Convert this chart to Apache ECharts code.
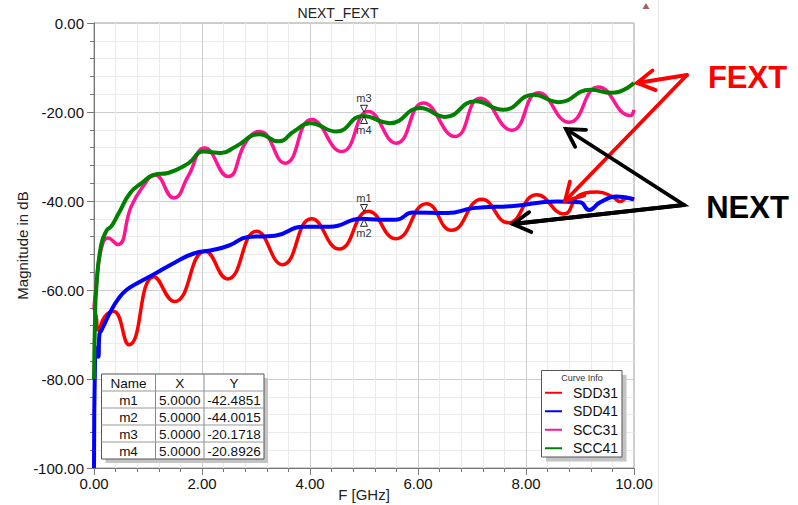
<!DOCTYPE html>
<html><head><meta charset="utf-8">
<script src="https://cdn.jsdelivr.net/npm/echarts@6/dist/echarts.min.js"></script>
<style>html,body{margin:0;padding:0;background:#fff}#c{width:798px;height:505px}</style>
</head><body><div id="c"></div>
<script>
const chartTitle = 'NEXT_FEXT';
const xName = 'F [GHz]';
const yName = 'Magnitude in dB';
const seriesNames = ['SDD31', 'SDD41', 'SCC31', 'SCC41'];
const seriesColors = ['#ff0000', '#0000ff', '#ff1493', '#008000'];

const sdd31F = [0, 0.04, 0.08, 0.2, 0.36, 0.65, 1.11, 1.49, 2.06, 2.47, 3.01, 3.49, 4.03, 4.54, 5.08, 5.59, 6.16, 6.62, 7.18, 7.67, 8.2, 8.7, 9.0, 9.32, 9.6, 9.74, 9.88, 10.0];
const sdd31V = [-64, -66, -69, -66, -64.8, -72.3, -57.0, -62.6, -51.3, -57.5, -46.8, -54.3, -44.0, -50.8, -42.3, -48.5, -40.6, -46.6, -39.6, -44.9, -38.6, -42.9, -38.6, -38.0, -39.0, -40.1, -39.3, -39.7];

const sdd41F = [0, 0.02, 0.05, 0.08, 0.1, 0.14, 0.2, 0.3, 0.45, 0.6, 0.8, 1.12, 1.5, 1.85, 2.2, 2.5, 2.85, 3.35, 3.87, 4.37, 4.95, 5.3, 5.6, 5.9, 6.55, 7.02, 7.77, 8.57, 9.0, 9.17, 9.37, 9.68, 10.0];
const sdd41V = [-100, -75, -73, -75, -70, -69, -67.5, -65, -62, -60, -58.5, -56.4, -53.8, -51.8, -51, -50, -48.1, -47.8, -45.8, -45.8, -44.0, -44.2, -44.2, -42.6, -42.7, -41.6, -41.1, -40.1, -40.3, -42, -40.3, -39.0, -39.6];

const scc31F = [0, 0.04, 0.13, 0.26, 0.44, 0.69, 0.91, 1.12, 1.48, 1.74, 2.05, 2.48, 2.82, 3.07, 3.54, 4.03, 4.59, 5.08, 5.6, 6.1, 6.69, 7.15, 7.74, 8.23, 8.8, 9.34, 9.93, 10.0];
const scc31V = [-64, -59.2, -51, -48.3, -49.8, -41.2, -36.7, -34.1, -39.3, -34.5, -28.1, -34.5, -26.6, -24.4, -31.5, -21.7, -28.9, -19.9, -27.0, -18.0, -25.5, -16.9, -24.1, -15.7, -22.3, -14.4, -20.8, -19.5];

const scc41F = [0, 0.02, 0.04, 0.13, 0.24, 0.32, 0.46, 0.67, 0.88, 1.12, 1.37, 1.74, 2.03, 2.35, 2.62, 3.07, 3.41, 3.72, 4.0, 4.49, 4.98, 5.48, 6.04, 6.5, 7.06, 7.58, 8.14, 8.6, 9.19, 9.59, 10.0];
const scc41V = [-80, -66, -60, -50, -46.5, -45.7, -42.7, -38.2, -36, -34.1, -33.7, -31.6, -28.9, -29.2, -27.8, -25.0, -26.6, -24.2, -22.5, -24.4, -20.9, -22.5, -19.1, -21.1, -17.6, -19.5, -16.1, -17.8, -15.0, -15.7, -13.5];

const markerNames = ['m1', 'm2', 'm3', 'm4'];
const markerX = [5.0, 5.0, 5.0, 5.0];
const markerY = [-42.4851, -44.0015, -20.1718, -20.8926];
const markerSeries = ['SDD31', 'SDD41', 'SCC31', 'SCC41'];
const markerPointsDown = [true, false, true, false];

const FONT = 'Liberation Sans, Arial, sans-serif';
const curves = {
  SDD31: [sdd31F, sdd31V, 3.5, 2],
  SDD41: [sdd41F, sdd41V, 4, 3],
  SCC31: [scc31F, scc31V, 3.5, 2],
  SCC41: [scc41F, scc41V, 4, 3]
};
const drawOrder = ['SDD31', 'SCC31', 'SDD41', 'SCC41'];

const series = drawOrder.map(name => {
  const [F, V, w, z] = curves[name];
  const mi = markerSeries.indexOf(name);
  const down = markerPointsDown[mi];
  return {
    name, type: 'line', smooth: 0.5, showSymbol: false, symbol: 'none', z,
    color: seriesColors[seriesNames.indexOf(name)],
    lineStyle: { width: w },
    data: F.map((f, i) => [f, V[i]]),
    markPoint: {
      z: 6,
      data: [{
        name: markerNames[mi],
        coord: [markerX[mi], markerY[mi]],
        symbol: 'triangle', symbolSize: [7, 7], symbolRotate: down ? 180 : 0,
        symbolOffset: [0, down ? -4 : 4],
        itemStyle: { color: '#fff', borderColor: '#222', borderWidth: 1 },
        label: { show: true, formatter: markerNames[mi], position: down ? 'top' : 'bottom', distance: 1,
                 fontSize: 11, color: '#333', fontFamily: FONT }
      }]
    }
  };
});

// marker table graphic
const tL = 101.5, tT = 374, colW = [54, 48.5, 60], rowH = 17;
const tW = colW[0] + colW[1] + colW[2], tH = rowH * (markerNames.length + 1);
const tableEls = [];
tableEls.push({ type: 'rect', shape: { x: tL + 4, y: tT + 4, width: tW, height: tH }, style: { fill: '#c4c4c4' }, z: 10 });
tableEls.push({ type: 'rect', shape: { x: tL, y: tT, width: tW, height: tH }, style: { fill: '#fff', stroke: '#555', lineWidth: 1 }, z: 11 });
const colX = [tL, tL + colW[0], tL + colW[0] + colW[1], tL + tW];
for (let c = 1; c < 3; c++) tableEls.push({ type: 'line', shape: { x1: colX[c], y1: tT, x2: colX[c], y2: tT + tH }, style: { stroke: '#888', lineWidth: 1 }, z: 12 });
for (let r = 1; r <= markerNames.length; r++) tableEls.push({ type: 'line', shape: { x1: tL, y1: tT + r * rowH, x2: tL + tW, y2: tT + r * rowH }, style: { stroke: '#999', lineWidth: 1 }, z: 12 });
const rows = [['Name', 'X', 'Y']].concat(markerNames.map((n, i) => [n, markerX[i].toFixed(4), markerY[i].toFixed(4)]));
rows.forEach((row, r) => row.forEach((txt, c) => {
  tableEls.push({ type: 'text', x: (colX[c] + colX[c + 1]) / 2, y: tT + r * rowH + rowH / 2 + 0.5, z: 13,
    style: { text: txt, align: 'center', verticalAlign: 'middle', font: '13.5px ' + FONT, fill: '#111' } });
}));

// legend box
const legendBox = [
  { type: 'rect', shape: { x: 546, y: 375, width: 80.5, height: 86.5 }, style: { fill: '#c4c4c4' }, z: 10 },
  { type: 'rect', shape: { x: 541.5, y: 370.5, width: 80.5, height: 86.5 }, style: { fill: '#fff', stroke: '#555', lineWidth: 1 }, z: 11 },
  { type: 'text', x: 582, y: 377.5, z: 12, style: { text: 'Curve Info', align: 'center', verticalAlign: 'middle', font: '9px ' + FONT, fill: '#333' } }
];

function arrow(color, pts, tip, tail) {
  const ang = Math.atan2(tail[1] - tip[1], tail[0] - tip[0]);
  const L = 20, a = Math.PI / 6;
  const w1 = [tip[0] + L * Math.cos(ang + a), tip[1] + L * Math.sin(ang + a)];
  const w2 = [tip[0] + L * Math.cos(ang - a), tip[1] + L * Math.sin(ang - a)];
  return [
    { type: 'polyline', z: 20, shape: { points: pts }, style: { stroke: color, lineWidth: 3.8, fill: null, lineCap: 'round', lineJoin: 'miter' } },
    { type: 'polyline', z: 20, shape: { points: [w1, tip, w2] }, style: { stroke: color, lineWidth: 3.8, fill: null, lineCap: 'round', lineJoin: 'miter' } }
  ];
}
const redApex = [687, 75], blackApex = [684, 205];
const annot = [].concat(
  arrow('#ff0000', [[637, 83], redApex], [637, 83], redApex),
  arrow('#ff0000', [redApex, [565, 201]], [565, 201], redApex),
  arrow('#000000', [[566, 129], blackApex, [513, 224]], [566, 129], blackApex),
  arrow('#000000', [[513, 224], blackApex], [513, 224], blackApex),
  [
    { type: 'text', x: 747.5, y: 77, z: 21, style: { text: 'FEXT', align: 'center', verticalAlign: 'middle', font: 'bold 31px ' + FONT, fill: '#ff0000' } },
    { type: 'text', x: 747.5, y: 207, z: 21, style: { text: 'NEXT', align: 'center', verticalAlign: 'middle', font: 'bold 31px ' + FONT, fill: '#000000' } },
    { type: 'line', z: 1, shape: { x1: 658.5, y1: 0, x2: 658.5, y2: 505 }, style: { stroke: '#e4e4e4', lineWidth: 1 } },
    { type: 'polygon', z: 1, shape: { points: [[642.5, 9], [649.5, 9], [646, 3]] }, style: { fill: '#a46060' } }
  ]
);

const chart = echarts.init(document.getElementById('c'), null, { renderer: 'svg' });
chart.setOption({
  animation: false,
  backgroundColor: '#fff',
  textStyle: { fontFamily: FONT },
  title: { text: chartTitle, left: 333, top: 1, textAlign: 'center', textStyle: { fontSize: 14, fontWeight: 'normal', color: '#222', fontFamily: FONT } },
  grid: { left: 94, right: 164, top: 23, bottom: 37, show: true, borderColor: '#9a9a9a', borderWidth: 1, outerBoundsMode: 'none', containLabel: false },
  legend: {
    orient: 'vertical', left: 545, top: 384, z: 15, padding: 0,
    data: seriesNames.map(n => ({ name: n, icon: 'rect' })),
    itemWidth: 17, itemHeight: 2, itemGap: 1,
    textStyle: { fontSize: 14, color: '#111', lineHeight: 17.5, padding: [0, 0, 0, 6], fontFamily: FONT }
  },
  xAxis: {
    type: 'value', min: 0, max: 10, interval: 2,
    name: xName, nameLocation: 'middle', nameGap: 19, nameMoveOverlap: false,
    nameTextStyle: { fontSize: 15, color: '#222', fontFamily: FONT },
    axisLine: { show: true, onZero: false, lineStyle: { color: '#777' } },
    axisTick: { show: true, length: 7, lineStyle: { color: '#777' } },
    minorTick: { show: true, splitNumber: 5, length: 4, lineStyle: { color: '#777' } },
    axisLabel: { formatter: v => v.toFixed(2), fontSize: 15, color: '#111', margin: 8 },
    splitLine: { show: true, lineStyle: { color: '#cdcdcd' } },
    minorSplitLine: { show: true, lineStyle: { color: '#ebebeb' } }
  },
  yAxis: {
    type: 'value', min: -100, max: 0, interval: 20,
    name: yName, nameLocation: 'middle', nameGap: 64, nameMoveOverlap: false,
    nameTextStyle: { fontSize: 15, color: '#222', fontFamily: FONT },
    axisLine: { show: true, onZero: false, lineStyle: { color: '#777' } },
    axisTick: { show: true, length: 7, lineStyle: { color: '#777' } },
    minorTick: { show: true, splitNumber: 5, length: 4, lineStyle: { color: '#777' } },
    axisLabel: { formatter: v => v.toFixed(2), fontSize: 15, color: '#111', margin: 10 },
    splitLine: { show: true, lineStyle: { color: '#cdcdcd' } },
    minorSplitLine: { show: true, lineStyle: { color: '#ebebeb' } }
  },
  graphic: { elements: tableEls.concat(legendBox, annot) },
  series
});
</script></body></html>
